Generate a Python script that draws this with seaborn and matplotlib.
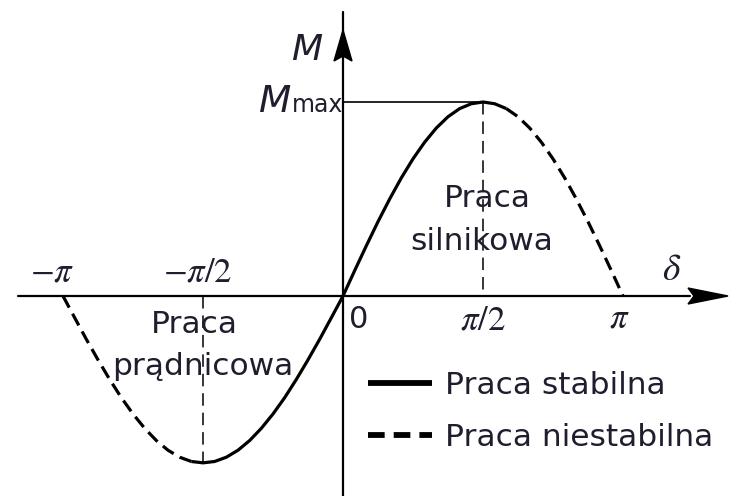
import numpy as np
import pandas as pd
import matplotlib
matplotlib.use("Agg")
import matplotlib.pyplot as plt
import seaborn as sns
from matplotlib.lines import Line2D
from matplotlib.patches import Polygon

# Load angle delta (degrees) and electromagnetic torque M (in units of M_max)
delta_deg = [-180, -172.5, -165, -157.5, -150, -142.5, -135, -127.5, -120,
             -112.5, -105, -97.5, -90, -82.5, -75, -67.5, -60, -52.5, -45,
             -37.5, -30, -22.5, -15, -7.5, 0, 7.5, 15, 22.5, 30, 37.5, 45,
             52.5, 60, 67.5, 75, 82.5, 90, 97.5, 105, 112.5, 120, 127.5, 135,
             142.5, 150, 157.5, 165, 172.5, 180]
torque = [0.000, -0.112, -0.223, -0.329, -0.430, -0.524, -0.608, -0.682,
          -0.745, -0.795, -0.831, -0.853, -0.860, -0.853, -0.831, -0.795,
          -0.745, -0.682, -0.608, -0.524, -0.430, -0.329, -0.223, -0.112,
          0.000, 0.131, 0.259, 0.383, 0.500, 0.609, 0.707, 0.793, 0.866,
          0.924, 0.966, 0.991, 1.000, 0.991, 0.966, 0.924, 0.866, 0.793,
          0.707, 0.609, 0.500, 0.383, 0.259, 0.131, 0.000]

# Stable operating range of the curve (degrees)
stable_from, stable_to = -97.5, 105

x_tick_labels = [r"$-\pi$", r"$-\pi/2$", "0", r"$\pi/2$", r"$\pi$"]
region_labels = [("Praca", "prądnicowa"), ("Praca", "silnikowa")]
legend_labels = ["Praca stabilna", "Praca niestabilna"]

sns.set_theme(style="white")
plt.rcParams["font.family"] = ["DejaVu Sans"]
plt.rcParams["mathtext.fontset"] = "stix"
plt.rcParams["lines.scale_dashes"] = False

TXT = "#1e1e2e"
FS = 22.5

fig = plt.figure(figsize=(7.36, 4.96), dpi=100)
ax = fig.add_axes([0, 0, 1, 1])

# pixel-based layout helpers (origin of the diagram and scale)
X0, Y0 = 343, 296
SX = 140 / (np.pi / 2)
SY = 194.0


def px(x):
    return (x - X0) / SX


def py(y):
    return (Y0 - y) / SY


ax.set_xlim(px(0), px(736))
ax.set_ylim(py(496), py(0))
ax.axis("off")

df = pd.DataFrame({"delta": np.deg2rad(delta_deg), "M": torque,
                   "deg": delta_deg})

segments = [
    (df[df.deg <= stable_from], True),
    (df[(df.deg >= stable_from) & (df.deg <= stable_to)], False),
    (df[df.deg >= stable_to], True),
]
for seg, dashed in segments:
    sns.lineplot(data=seg, x="delta", y="M", ax=ax, color="black",
                 linewidth=2.3, sort=False, estimator=None, legend=False)
    line = ax.lines[-1]
    line.set_solid_capstyle("butt")
    line.set_solid_joinstyle("round")
    if dashed:
        line.set_dashes((9.5, 5))
        line.set_dash_capstyle("butt")

# coordinate axes with arrowheads
ax.plot([px(18), px(690)], [0, 0], color="black", lw=1.6)
ax.add_patch(Polygon([(px(728), 0), (px(688), py(288)), (px(694), 0),
                      (px(688), py(304))], closed=True, color="black"))
ax.plot([0, 0], [py(12), py(496)], color="black", lw=1.6)
ax.add_patch(Polygon([(0, py(30)), (px(334), py(61)), (0, py(56)),
                      (px(352), py(61))], closed=True, color="black"))

# M_max level and guide lines at +/- pi/2
m_max = max(torque)
m_min = min(torque)
ax.plot([0, np.pi / 2], [m_max, m_max], color="black", lw=1.2)
ax.plot([np.pi / 2, np.pi / 2], [m_max, 0], color="black", lw=1.1,
        dashes=(9, 5))
ax.plot([-np.pi / 2, -np.pi / 2], [0, m_min], color="black", lw=1.1,
        dashes=(9, 5))

# axis names
ax.text(px(322), py(60), "M", ha="right", va="baseline", fontsize=26,
        style="italic", color=TXT)
ax.text(px(291), py(112), "M", ha="right", va="baseline", fontsize=27,
        style="italic", color=TXT)
ax.text(px(292), py(112), "max", ha="left", va="baseline", fontsize=17,
        color=TXT)
ax.text(px(672), py(270), r"$\delta$", ha="center", va="center",
        fontsize=27, color=TXT)

# angle labels
ax.text(px(52), py(272), x_tick_labels[0], ha="center", va="center",
        fontsize=25, color=TXT)
ax.text(px(198), py(272), x_tick_labels[1], ha="center", va="center",
        fontsize=25, color=TXT)
ax.text(px(359), py(320), x_tick_labels[2], ha="center", va="center",
        fontsize=22, color=TXT)
ax.text(px(483), py(320), x_tick_labels[3], ha="center", va="center",
        fontsize=25, color=TXT)
ax.text(px(619), py(318), x_tick_labels[4], ha="center", va="center",
        fontsize=25, color=TXT)

# operating regions
ax.text(px(194), py(333), region_labels[0][0], ha="center", va="baseline",
        fontsize=FS, color=TXT)
ax.text(px(203), py(375), region_labels[0][1], ha="center", va="baseline",
        fontsize=FS, color=TXT)
ax.text(px(487), py(207), region_labels[1][0], ha="center", va="baseline",
        fontsize=FS, color=TXT)
ax.text(px(482), py(250), region_labels[1][1], ha="center", va="baseline",
        fontsize=FS, color=TXT)

handles = [Line2D([], [], color="black", lw=4.2, solid_capstyle="butt"),
           Line2D([], [], color="black", lw=4.2, dashes=(12, 6.5),
                  dash_capstyle="butt")]
leg = ax.legend(handles, legend_labels, loc="upper left",
                bbox_to_anchor=(368 / 736, 1 - 371 / 496), frameon=False,
                fontsize=FS, handlelength=2.05, handletextpad=0.4,
                labelspacing=0.72, borderpad=0, borderaxespad=0)
for t in leg.get_texts():
    t.set_color(TXT)

fig.savefig("out.png", dpi=100)
